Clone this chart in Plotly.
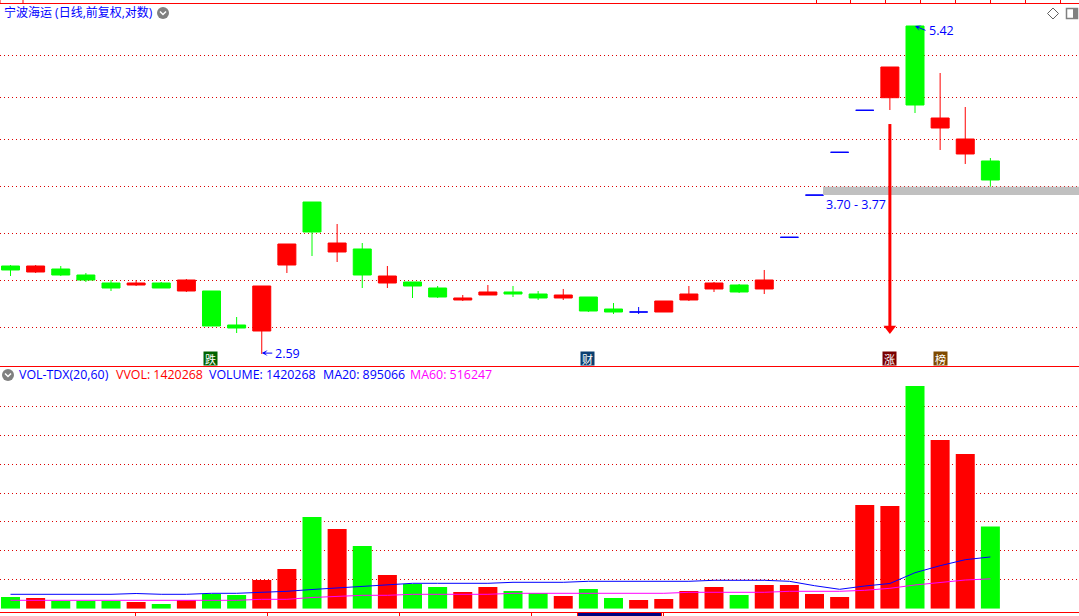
import math
import plotly.graph_objects as go

W, H = 1079, 616

# ---------- chart values ----------
day = list(range(40))
open_ = [3.1529, 3.1105, 3.1316, 3.0895, 3.0342, 3.0205, 3.0342, 2.9799, 2.9799, 2.7597,
         2.7226, 3.16, 3.6429, 3.2541, 3.2763, 3.0342, 3.0411, 3.0001, 2.92, 2.9531,
         2.9732, 2.9598, 2.9332, 2.9398, 2.8612, 2.8419, 2.8419, 2.92, 2.9934, 3.0205,
         2.9934, 3.3639, 3.70, 4.0755, 4.4808, 4.61, 5.42, 4.3052, 4.06, 3.9963]
high = [3.16, 3.16, 3.1529, 3.1035, 3.0548, 3.0548, 3.0411, 3.0617, 2.9799, 2.81,
        3.0137, 3.3134, 3.6429, 3.4664, 3.3209, 3.1529, 3.0411, 3.0137, 2.9531, 3.0205,
        3.0137, 2.9799, 2.9934, 2.9398, 2.9002, 2.8742, 2.9133, 3.0137, 3.0411, 3.0273,
        3.1246, 3.3639, 3.70, 4.0755, 4.4808, 4.9409, 5.42, 4.8744, 4.5143, 4.0234]
low = [3.0825, 3.1035, 3.0825, 3.0411, 2.9799, 3.0137, 3.0001, 2.9732, 2.7535, 2.7103,
       2.585, 3.1035, 3.2249, 3.1815, 3.0001, 3.0001, 2.9332, 2.9332, 2.9133, 2.9531,
       2.9398, 2.92, 2.92, 2.8419, 2.8291, 2.8291, 2.8419, 2.9133, 2.9732, 2.9665,
       2.9598, 3.3639, 3.70, 4.0755, 4.4808, 4.4838, 4.4536, 4.0966, 3.9693, 3.77]
close = [3.1246, 3.1529, 3.0895, 3.0548, 3.0001, 3.0342, 3.0001, 3.0548, 2.7535, 2.7411,
         3.0137, 3.3134, 3.4044, 3.3209, 3.0895, 3.0825, 3.0137, 2.9398, 2.9332, 2.9732,
         2.9598, 2.9332, 2.9531, 2.8483, 2.8419, 2.8419, 2.9133, 2.9598, 3.0342, 2.9732,
         3.0548, 3.3639, 3.70, 4.0755, 4.4808, 4.9409, 4.5347, 4.4035, 4.1997, 3.8284]

volume = [202400, 185100, 133200, 133200, 133200, 115900, 81300, 150500, 254300, 237000,
          496500, 686800, 1586400, 1378800, 1084700, 583000, 427300, 375400, 288900, 375400,
          306200, 271600, 219700, 340800, 185100, 150500, 167800, 306200, 375400, 237000,
          410000, 410000, 254300, 202400, 1794000, 1776700, 3852700, 2918500, 2676300, 1420268]
volume_colour = ["g", "r", "g", "g", "g", "r", "g", "r", "g", "g",
                 "r", "r", "g", "r", "g", "r", "g", "g", "r", "r",
                 "g", "g", "r", "g", "g", "r", "r", "r", "r", "g",
                 "r", "r", "r", "r", "r", "r", "g", "r", "r", "g"]
ma20 = [249100, 249100, 249100, 249100, 249100, 263000, 249100, 249100, 266400, 266400,
        283700, 301000, 332200, 358100, 384100, 410000, 439400, 439400, 439400, 439400,
        456700, 456700, 456700, 474000, 474000, 474000, 474000, 474000, 491300, 491300,
        491300, 474000, 397900, 335600, 392700, 436000, 622800, 743900, 847700, 895066]
ma60 = [145300, 145300, 145300, 145300, 145300, 145300, 145300, 145300, 145300, 145300,
        162600, 162600, 193800, 214500, 231800, 231800, 249100, 249100, 249100, 249100,
        266400, 266400, 266400, 266400, 266400, 266400, 266400, 283700, 283700, 283700,
        283700, 301000, 301000, 301000, 318300, 352900, 410000, 449800, 496500, 516247]

price_grid = [5.072, 4.612, 4.196, 3.772, 3.393, 3.052, 2.744]
volume_grid = [500000, 1000000, 1500000, 2000000, 2500000, 3000000, 3500000]

gap_low, gap_high = 3.70, 3.77
gap_start_day = 32.34
signal_day = 35
signal_top, signal_bottom = 4.344, 2.747
signal_head = 2.738
peak_price, trough_price = 5.42, 2.59
peak_day, trough_day = 36, 10

title_text = "宁波海运 (日线,前复权,对数)"
legend_texts = ["VOL-TDX(20,60)", "VVOL: 1420268", "VOLUME: 1420268", "MA20: 895066", "MA60: 516247"]
legend_colours = ["#0000ff", "#ff0000", "#0000ff", "#0000ff", "#ff00ff"]
legend_left = [17.5, 114.5, 207.5, 321.5, 408.5]
badge_text = ["跌", "财", "涨", "榜"]
badge_day = [8, 23, 35, 37]
badge_shift = [-1, -1, -0.5, 0]
badge_colour = ["#006400", "#0b3f70", "#7a0000", "#7f4a00"]
top_ticks = [0, 23, 816.5, 850.5, 885.5, 920.5, 955.5, 990.5, 1025.5, 1060.5]
bottom_ticks = [135.5, 267.5, 399.5, 531.5, 577.5, 661.5, 663.5]

# ---------- helpers ----------
FONT = "Open Sans, Noto Sans, sans-serif"
CJK = "Open Sans, Noto Sans CJK SC, sans-serif"
BADGE = "Noto Sans CJK SC, sans-serif"
fx = lambda px: px / W
fy = lambda py: 1 - py / H

def pixel_line(x0, y0, x1, y1, colour="#ff0000", width=1):
    return dict(type="line", xref="paper", yref="paper", x0=fx(x0), y0=fy(y0), x1=fx(x1), y1=fy(y1),
                line=dict(color=colour, width=width), layer="above")

def menu_icon(cx, cy):
    return [
        dict(type="circle", xref="paper", yref="paper", x0=fx(cx - 6), x1=fx(cx + 6), y0=fy(cy + 6), y1=fy(cy - 6),
             fillcolor="#808080", line=dict(width=0), layer="above"),
        dict(type="path", xref="paper", yref="paper",
             path=f"M {fx(cx-3)} {fy(cy-1.5)} L {fx(cx)} {fy(cy+1.5)} L {fx(cx+3)} {fy(cy-1.5)}",
             line=dict(color="white", width=1.5), layer="above"),
    ]

# ---------- traces ----------
moving = [i for i in day if open_[i] != close[i]]
flat = [i for i in day if open_[i] == close[i]]
fig = go.Figure()

fig.add_trace(go.Scatter(
    x=[gap_start_day, 43, 43, gap_start_day], y=[gap_low, gap_low, gap_high, gap_high],
    fill="toself", fillcolor="#c0c0c0", mode="lines", line=dict(width=0), yaxis="y", xaxis="x", hoverinfo="skip"))
fig.add_trace(go.Candlestick(
    x=moving, open=[open_[i] for i in moving], high=[high[i] for i in moving],
    low=[low[i] for i in moving], close=[close[i] for i in moving],
    increasing=dict(line=dict(color="#ff0000", width=1), fillcolor="#ff0000"),
    decreasing=dict(line=dict(color="#00ff00", width=1), fillcolor="#00ff00"),
    whiskerwidth=0, xaxis="x", yaxis="y"))
fig.add_trace(go.Candlestick(
    x=flat, open=[open_[i] for i in flat], high=[high[i] for i in flat],
    low=[low[i] for i in flat], close=[close[i] for i in flat],
    increasing=dict(line=dict(color="#0000ff", width=1), fillcolor="#0000ff"),
    decreasing=dict(line=dict(color="#0000ff", width=1), fillcolor="#0000ff"),
    whiskerwidth=0, xaxis="x", yaxis="y"))
fig.add_trace(go.Scatter(
    x=[signal_day, signal_day], y=[signal_top, signal_bottom], mode="lines",
    line=dict(color="#ff0000", width=3), xaxis="x", yaxis="y", hoverinfo="skip"))
fig.add_trace(go.Scatter(
    x=[signal_day], y=[signal_head], mode="markers",
    marker=dict(symbol="triangle-down", size=11, color="#ff0000", line=dict(width=0)),
    xaxis="x", yaxis="y", hoverinfo="skip"))

colour_map = {"r": "#ff0000", "g": "#00ff00"}
fig.add_trace(go.Bar(x=day, y=volume, width=0.756, marker=dict(color=[colour_map[c] for c in volume_colour], line=dict(width=0)),
                     xaxis="x", yaxis="y2"))
fig.add_trace(go.Scatter(x=day, y=ma20, mode="lines", line=dict(color="#0000ff", width=1), xaxis="x", yaxis="y2"))
fig.add_trace(go.Scatter(x=day, y=ma60, mode="lines", line=dict(color="#ff00ff", width=1), xaxis="x", yaxis="y2"))

# ---------- annotations ----------
ann = []
ann.append(dict(text=title_text, xref="paper", yref="paper", x=fx(3), y=fy(13), xanchor="left", yanchor="middle",
                showarrow=False, borderpad=0, font=dict(family=CJK, size=12, color="#0000ff")))
for t, c, l in zip(legend_texts, legend_colours, legend_left):
    ann.append(dict(text=t, xref="paper", yref="paper", x=fx(l), y=fy(374.5), xanchor="left", yanchor="middle",
                    showarrow=False, borderpad=0, font=dict(family=FONT, size=12.4, color=c)))
for t, d, s, c in zip(badge_text, badge_day, badge_shift, badge_colour):
    ann.append(dict(text=t, xref="x", yref="paper", x=d, xshift=s, y=fy(358.5), xanchor="center", yanchor="middle",
                    showarrow=False, borderpad=0, width=13, height=13, bgcolor=c,
                    font=dict(family=BADGE, size=11, color="white")))
ann.append(dict(text="3.70 - 3.77", xref="x", yref="y", x=gap_start_day, xshift=2, y=math.log10(gap_low), yanchor="top",
                xanchor="left", showarrow=False, borderpad=0, font=dict(family=FONT, size=12.5, color="#0000ff")))
ann.append(dict(text=f"{peak_price:.2f}", xref="x", yref="y", x=peak_day, xshift=13, y=math.log10(peak_price), yshift=-5,
                xanchor="left", yanchor="middle", showarrow=False, borderpad=0, font=dict(family=FONT, size=12.5, color="#0000ff")))
ann.append(dict(text=f"{trough_price:.2f}", xref="x", yref="y", x=trough_day, xshift=12.5, y=math.log10(trough_price),
                xanchor="left", yanchor="middle", showarrow=False, borderpad=0, font=dict(family=FONT, size=12.5, color="#0000ff")))
ann.append(dict(text="", xref="x", yref="y", x=peak_day, y=math.log10(peak_price), ax=12, ay=5, axref="pixel", ayref="pixel",
                showarrow=True, arrowhead=3, arrowsize=1, arrowwidth=1, arrowcolor="#0000ff"))
ann.append(dict(text="", xref="x", yref="y", x=trough_day, y=math.log10(trough_price), ax=12, ay=0, axref="pixel", ayref="pixel",
                showarrow=True, arrowhead=3, arrowsize=1, arrowwidth=1, arrowcolor="#0000ff"))

# ---------- chrome shapes ----------
shapes = [pixel_line(0, 3.5, W, 3.5), pixel_line(0, 366.5, W, 366.5), pixel_line(0, 612.5, W, 612.5)]
shapes += [pixel_line(t, 0, t, 3) for t in top_ticks]
shapes += [pixel_line(t, 613, t, H) for t in bottom_ticks]
shapes.append(dict(type="rect", xref="paper", yref="paper", x0=fx(578), x1=fx(661), y0=fy(616), y1=fy(613),
                   fillcolor="#000080", line=dict(width=0), layer="above"))
shapes += menu_icon(163, 13) + menu_icon(8, 375)
shapes.append(dict(type="path", xref="paper", yref="paper",
                   path=f"M {fx(1047.5)} {fy(13.5)} L {fx(1053)} {fy(8)} L {fx(1058.5)} {fy(13.5)} L {fx(1053)} {fy(19)} Z",
                   line=dict(color="#606060", width=1), layer="above"))
shapes.append(dict(type="rect", xref="paper", yref="paper", x0=fx(1066.5), x1=fx(1077.5), y0=fy(18.5), y1=fy(8.5),
                   line=dict(color="#808080", width=1.5), layer="above"))
shapes.append(dict(type="rect", xref="paper", yref="paper", x0=fx(1073), x1=fx(1077), y0=fy(18), y1=fy(9),
                   fillcolor="#808080", line=dict(width=0), layer="above"))

grid = dict(showgrid=True, gridcolor="#dd0000", gridwidth=1, griddash="1px,3px", zeroline=False,
            showticklabels=False, ticks="", showline=False, fixedrange=True)
fig.update_layout(
    width=W, height=H, autosize=False, margin=dict(l=0, r=0, t=0, b=0),
    paper_bgcolor="white", plot_bgcolor="white", showlegend=False,
    boxmode="overlay", boxgap=0.284, boxgroupgap=0, barmode="overlay",
    xaxis=dict(range=[-0.418, 42.527], visible=False, rangeslider=dict(visible=False), fixedrange=True, anchor="y2"),
    yaxis=dict(type="log", domain=[fy(366), fy(4)], range=[0.40067, 0.75557], tickmode="array", tickvals=price_grid, **grid),
    yaxis2=dict(domain=[fy(608.7), fy(380)], range=[0, 3956510], tickmode="array", tickvals=volume_grid, **grid),
    annotations=ann, shapes=shapes, hovermode=False,
)
fig.write_html("out.html", config=dict(displayModeBar=False), post_script="document.body.style.margin='0';")
